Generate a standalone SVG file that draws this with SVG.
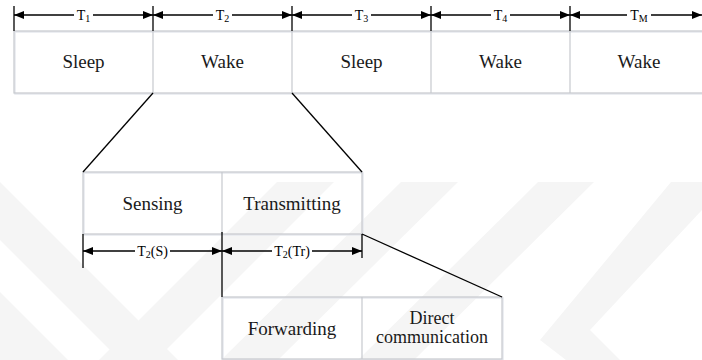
<svg xmlns="http://www.w3.org/2000/svg" width="702" height="360" viewBox="0 0 702 360">
  <style>
    .wm { fill: #f5f5f5; stroke: none; }
    .box { fill: none; stroke: #c6c9ce; stroke-width: 1.2; }
    .shade { fill: none; stroke: #e6e9ee; stroke-width: 1.5; }
    .ln { fill: none; stroke: #000; stroke-width: 1.3; }
    .dim { fill: none; stroke: #000; stroke-width: 1.3; marker-start: url(#ah); marker-end: url(#ah); }
    .gap { fill: #fff; }
  </style>
  <defs>
    <marker id="ah" viewBox="0 0 10 8" refX="10" refY="4" markerWidth="10" markerHeight="8" markerUnits="userSpaceOnUse" orient="auto-start-reverse">
      <path d="M0,0 L10,4 L0,8 Z" fill="#000"/>
    </marker>
  </defs>

  <rect width="702" height="360" fill="#fff"/>

  <!-- faint background watermark bands -->
  <g id="watermark">
    <polygon class="wm" points="0,182 0,240 120,360 178,360"/>
    <polygon class="wm" points="277,182 334,182 156,360 99,360"/>
    <polygon class="wm" points="0,292 0,360 68,360"/>
    <polygon class="wm" points="401,182 458,182 278,360 221,360"/>
    <polygon class="wm" points="538,182 594,182 414,360 358,360"/>
    <polygon class="wm" points="671,182 728,182 590,330 620,360 566,360 540,340"/>
  </g>

  <!-- top row: sleep / wake periods -->
  <g id="period-row">
    <rect class="shade" x="15" y="32" width="700" height="62"/>
    <rect class="box" x="14" y="31" width="700" height="62"/>
    <line class="box" x1="153" y1="31" x2="153" y2="93"/>
    <line class="box" x1="292" y1="31" x2="292" y2="93"/>
    <line class="box" x1="431" y1="31" x2="431" y2="93"/>
    <line class="box" x1="570" y1="31" x2="570" y2="93"/>
  </g>

  <g font-family="Liberation Serif" font-size="19" fill="#1a1a1a" text-anchor="middle">
    <g id="p1"><text x="83.5" y="68">Sleep</text></g>
    <g id="p2"><text x="222.5" y="68">Wake</text></g>
    <g id="p3"><text x="361.5" y="68">Sleep</text></g>
    <g id="p4"><text x="500.5" y="68">Wake</text></g>
    <g id="p5"><text x="639" y="68">Wake</text></g>
  </g>

  <!-- wake phase split -->
  <g id="wake-split">
    <rect class="shade" x="84" y="173" width="279" height="62"/>
    <rect class="box" x="83" y="172" width="279" height="62"/>
    <line class="box" x1="222" y1="172" x2="222" y2="234"/>
  </g>
  <g font-family="Liberation Serif" font-size="19" fill="#1a1a1a" text-anchor="middle">
    <g id="sensing"><text x="152.5" y="210">Sensing</text></g>
    <g id="transmitting"><text x="292" y="210">Transmitting</text></g>
  </g>

  <!-- transmitting phase split -->
  <g id="tx-split">
    <rect class="shade" x="223" y="298" width="280" height="62"/>
    <rect class="box" x="222" y="297" width="280" height="62"/>
    <line class="box" x1="362" y1="297" x2="362" y2="359"/>
  </g>
  <g font-family="Liberation Serif" fill="#1a1a1a" text-anchor="middle">
    <g id="forwarding"><text x="292" y="335" font-size="19">Forwarding</text></g>
    <g id="direct"><text x="432" y="324" font-size="18">Direct</text><text x="432" y="343" font-size="18">communication</text></g>
  </g>

  <!-- connectors: ticks, dimension arrows, zoom lines -->
  <g id="connectors">
    <line class="ln" x1="14" y1="6" x2="14" y2="31"/>
    <line class="ln" x1="153" y1="6" x2="153" y2="31"/>
    <line class="ln" x1="292" y1="6" x2="292" y2="31"/>
    <line class="ln" x1="431" y1="6" x2="431" y2="31"/>
    <line class="ln" x1="570" y1="6" x2="570" y2="31"/>
    <line class="dim" x1="14" y1="15" x2="153" y2="15"/>
    <line class="dim" x1="153" y1="15" x2="292" y2="15"/>
    <line class="dim" x1="292" y1="15" x2="431" y2="15"/>
    <line class="dim" x1="431" y1="15" x2="570" y2="15"/>
    <line class="dim" x1="570" y1="15" x2="702" y2="15"/>

    <line class="ln" x1="153" y1="93" x2="83" y2="172"/>
    <line class="ln" x1="292" y1="93" x2="362" y2="172"/>

    <line class="ln" x1="83" y1="234" x2="83" y2="268"/>
    <line class="ln" x1="222" y1="232" x2="222" y2="297"/>
    <line class="ln" x1="362" y1="234" x2="362" y2="258"/>
    <line class="dim" x1="83" y1="251" x2="222" y2="251"/>
    <line class="dim" x1="222" y1="251" x2="362" y2="251"/>

    <line class="ln" x1="362" y1="234" x2="502" y2="297"/>
  </g>

  <!-- dimension labels -->
  <g id="dim-labels" font-family="Liberation Serif" font-size="14" fill="#000" text-anchor="middle">
    <rect class="gap" x="74" y="7" width="19" height="16"/>
    <text x="83.5" y="20">T<tspan font-size="10" dy="2">1</tspan></text>
    <rect class="gap" x="213" y="7" width="19" height="16"/>
    <text x="222.5" y="20">T<tspan font-size="10" dy="2">2</tspan></text>
    <rect class="gap" x="352" y="7" width="19" height="16"/>
    <text x="361.5" y="20">T<tspan font-size="10" dy="2">3</tspan></text>
    <rect class="gap" x="491" y="7" width="19" height="16"/>
    <text x="500.5" y="20">T<tspan font-size="10" dy="2">4</tspan></text>
    <rect class="gap" x="627" y="7" width="24" height="16"/>
    <text x="639" y="20">T<tspan font-size="10" dy="2">M</tspan></text>

    <rect class="gap" x="135" y="243" width="35" height="16"/>
    <text x="152.5" y="256">T<tspan font-size="10" dy="2">2</tspan><tspan dy="-2">(S)</tspan></text>
    <rect class="gap" x="272" y="243" width="40" height="16"/>
    <text x="292" y="256">T<tspan font-size="10" dy="2">2</tspan><tspan dy="-2">(Tr)</tspan></text>
  </g>
</svg>
